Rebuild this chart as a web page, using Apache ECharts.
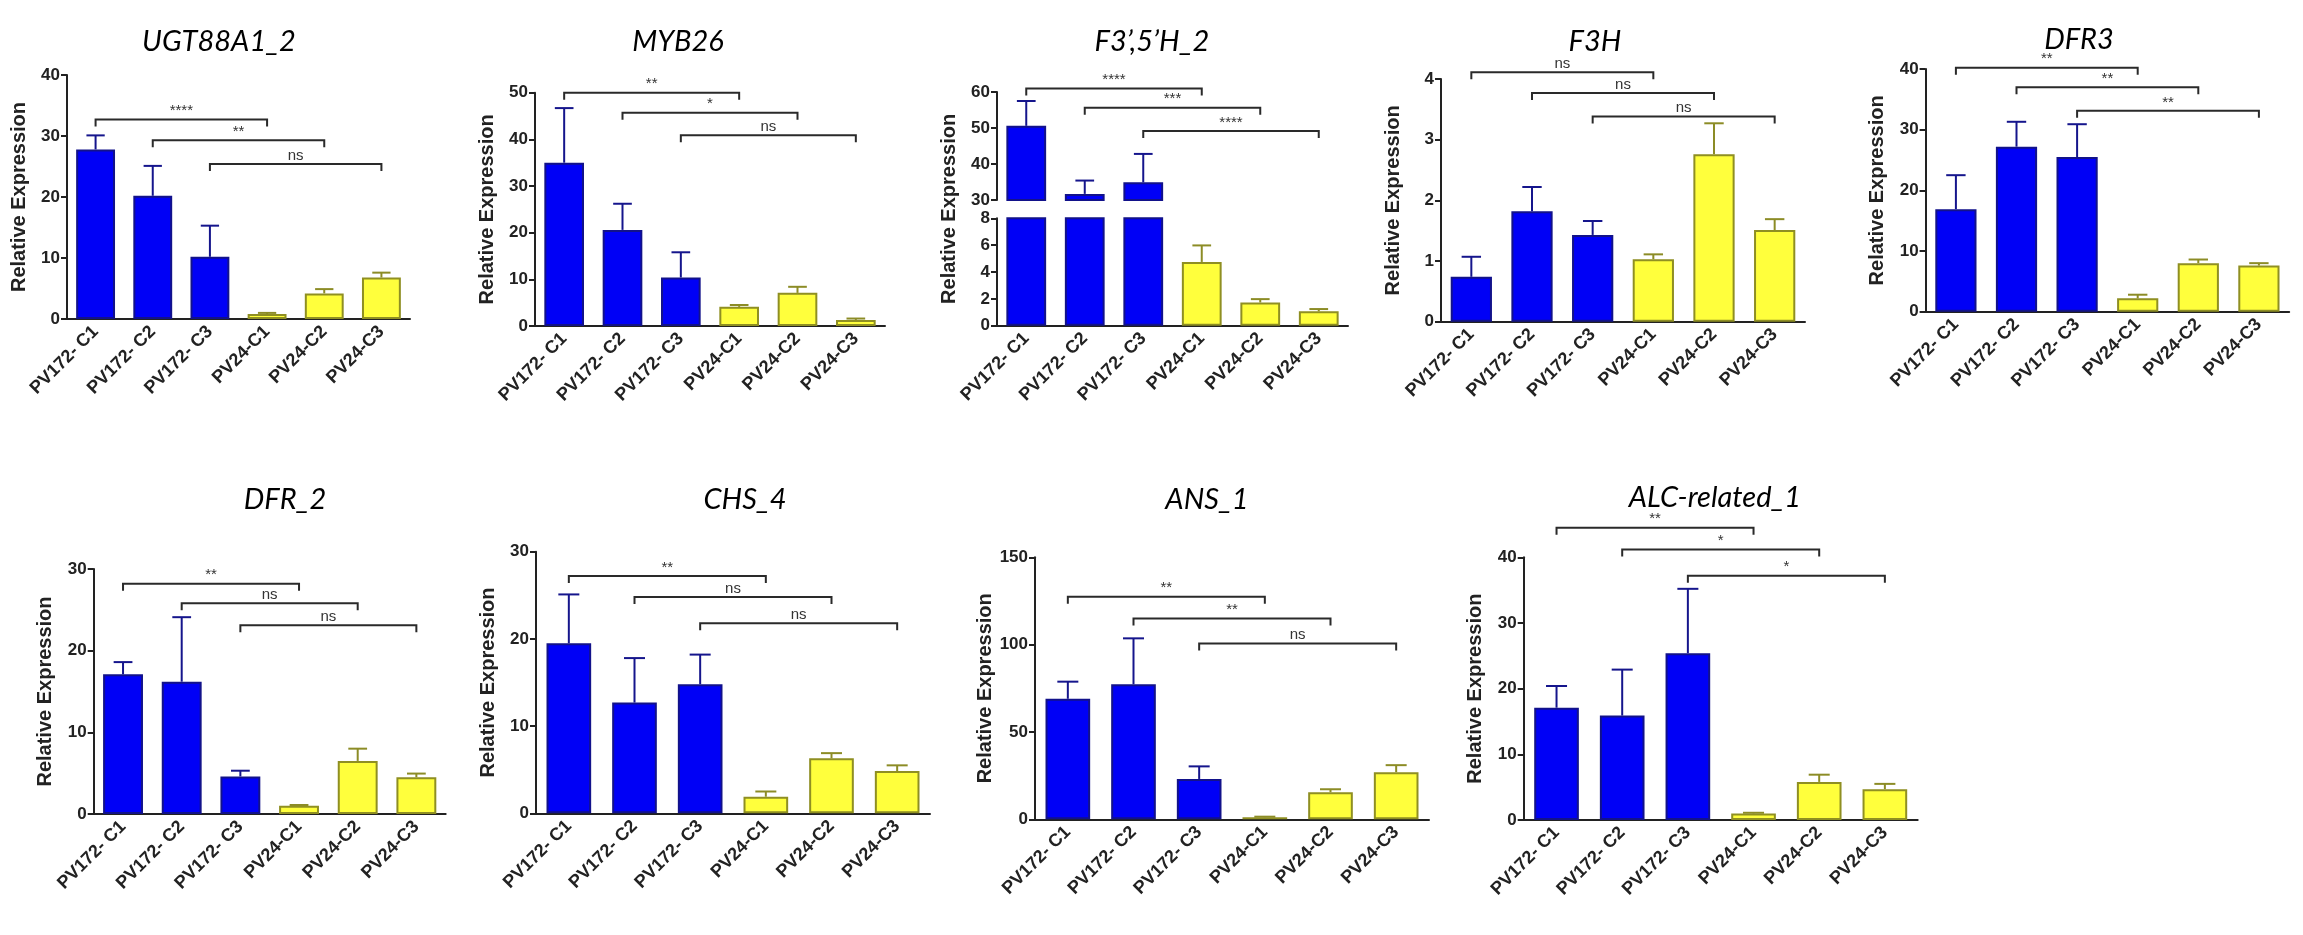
<!DOCTYPE html>
<html>
<head>
<meta charset="utf-8">
<script src="https://cdn.jsdelivr.net/npm/echarts@6/dist/echarts.min.js"></script>
<style>
  html, body { margin: 0; background: #fff; }
  #chart { width: 2303px; height: 935px; }
</style>
</head>
<body>
<div id="chart"></div>
<script>
const categories = ['PV172- C1', 'PV172- C2', 'PV172- C3', 'PV24-C1', 'PV24-C2', 'PV24-C3'];
const groups = ['PV172', 'PV172', 'PV172', 'PV24', 'PV24', 'PV24'];
const sigPairs = [[0, 3], [1, 4], [2, 5]];

// mean relative expression and error (SEM) per gene
const ugtMean = [27.8, 20.2, 10.2, 0.8, 4.2, 6.8];
const ugtErr = [2.3, 4.9, 5.1, 0.2, 0.7, 0.8];
const ugtSigY = [32.7, 29.3, 25.4];
const ugtSig = ['****', '**', 'ns'];

const mybMean = [35.0, 20.6, 10.4, 4.1, 7.1, 1.3];
const mybErr = [11.7, 5.6, 5.4, 0.4, 1.3, 0.3];
const mybSigY = [50.0, 45.7, 40.9];
const mybSig = ['**', '*', 'ns'];

const f35hMean = [50.6, 31.7, 34.9, 4.75, 1.73, 1.07];
const f35hErr = [6.9, 3.7, 7.9, 1.23, 0.25, 0.17];
const f35hSigY = [61.0, 55.6, 49.2];
const f35hSig = ['****', '***', '****'];

const f3hMean = [0.74, 1.82, 1.43, 1.03, 2.76, 1.51];
const f3hErr = [0.33, 0.40, 0.23, 0.08, 0.51, 0.18];
const f3hSigY = [4.11, 3.77, 3.38];
const f3hSig = ['ns', 'ns', 'ns'];

const dfr3Mean = [16.9, 27.2, 25.5, 2.2, 8.0, 7.6];
const dfr3Err = [5.6, 4.1, 5.4, 0.6, 0.6, 0.4];
const dfr3SigY = [40.2, 37.0, 33.1];
const dfr3Sig = ['**', '**', '**'];

const dfr2Mean = [17.1, 16.2, 4.6, 1.0, 6.5, 4.5];
const dfr2Err = [1.5, 7.9, 0.7, 0.1, 1.5, 0.45];
const dfr2SigY = [28.2, 25.8, 23.1];
const dfr2Sig = ['**', 'ns', 'ns'];

const chsMean = [19.5, 12.7, 14.8, 1.9, 6.3, 4.85];
const chsErr = [5.6, 5.1, 3.4, 0.6, 0.6, 0.65];
const chsSigY = [27.2, 24.8, 21.8];
const chsSig = ['**', 'ns', 'ns'];

const ansMean = [69.0, 77.3, 23.1, 1.2, 15.5, 27.0];
const ansErr = [9.8, 26.3, 7.2, 0.3, 1.7, 4.0];
const ansSigY = [127.4, 115.0, 100.7];
const ansSig = ['**', '**', 'ns'];

const alcMean = [17.1, 15.9, 25.4, 1.0, 5.8, 4.7];
const alcErr = [3.3, 7.0, 9.8, 0.1, 1.1, 0.8];
const alcSigY = [44.5, 41.2, 37.2];
const alcSig = ['**', '*', '*'];

const panels = [
  {title: 'UGT88A1_2', mean: ugtMean, err: ugtErr, sigY: ugtSigY, sig: ugtSig, axes: [[0, 40, 10]],
   boxes: [[67, 75, 343, 244]], titleAt: [219, 42]},
  {title: 'MYB26', mean: mybMean, err: mybErr, sigY: mybSigY, sig: mybSig, axes: [[0, 50, 10]],
   boxes: [[535, 92.7, 350, 233.3]], titleAt: [678, 42]},
  {title: 'F3\u2019,5\u2019H_2', mean: f35hMean, err: f35hErr, sigY: f35hSigY, sig: f35hSig, axes: [[30, 60, 10], [0, 8, 2]],
   boxes: [[997, 92, 351, 108], [997, 218.3, 351, 107.4]], titleAt: [1152, 42]},
  {title: 'F3H', mean: f3hMean, err: f3hErr, sigY: f3hSigY, sig: f3hSig, axes: [[0, 4, 1]],
   boxes: [[1441, 79, 364, 242.7]], titleAt: [1595, 42]},
  {title: 'DFR3', mean: dfr3Mean, err: dfr3Err, sigY: dfr3SigY, sig: dfr3Sig, axes: [[0, 40, 10]],
   boxes: [[1925.6, 69, 363.6, 242.7]], titleAt: [2079, 40]},
  {title: 'DFR_2', mean: dfr2Mean, err: dfr2Err, sigY: dfr2SigY, sig: dfr2Sig, axes: [[0, 30, 10]],
   boxes: [[93.7, 569, 352, 245]], titleAt: [285, 500]},
  {title: 'CHS_4', mean: chsMean, err: chsErr, sigY: chsSigY, sig: chsSig, axes: [[0, 30, 10]],
   boxes: [[536, 551.7, 394, 261.6]], titleAt: [745, 500]},
  {title: 'ANS_1', mean: ansMean, err: ansErr, sigY: ansSigY, sig: ansSig, axes: [[0, 150, 50]],
   boxes: [[1035, 557.3, 394, 262]], titleAt: [1207, 500]},
  {title: 'ALC-related_1', mean: alcMean, err: alcErr, sigY: alcSigY, sig: alcSig, axes: [[0, 40, 10]],
   boxes: [[1523.7, 557.3, 394, 262.7]], titleAt: [1715, 498]}
];

const FONT = '"Liberation Sans", Arial, sans-serif';
const INK = '#222';
const barStyle = {
  PV172: {color: '#0000f6', borderColor: '#12128a', borderWidth: 2},
  PV24: {color: '#ffff3c', borderColor: '#8f8f22', borderWidth: 2}
};
const errColor = {PV172: '#15158c', PV24: '#8c8c26'};

const option = {animation: false, backgroundColor: '#fff', graphic: [], grid: [], xAxis: [], yAxis: [], series: []};

function addGrid(box, range, showX, name) {
  const gi = option.grid.length;
  option.grid.push({left: box[0], top: box[1], width: box[2], height: box[3], containLabel: false});
  option.xAxis.push({
    type: 'category', gridIndex: gi, data: categories, show: showX,
    axisLine: {onZero: false, lineStyle: {color: INK, width: 2}},
    axisTick: {length: 6, alignWithLabel: true, lineStyle: {color: INK, width: 2}},
    axisLabel: {rotate: 45, interval: 0, margin: 10, fontFamily: FONT, fontWeight: 'bold', fontSize: 18, color: INK}
  });
  option.yAxis.push({
    type: 'value', gridIndex: gi, min: range[0], max: range[1], interval: range[2],
    name: name, nameLocation: 'middle', nameGap: 38,
    nameTextStyle: {fontFamily: FONT, fontWeight: 'bold', fontSize: 20, color: INK},
    splitLine: {show: false},
    axisLine: {show: true, onZero: false, lineStyle: {color: INK, width: 2}},
    axisTick: {show: true, length: 6, lineStyle: {color: INK, width: 2}},
    axisLabel: {margin: 7, fontFamily: FONT, fontWeight: 'bold', fontSize: 17, color: INK}
  });
  return gi;
}

function barSeries(gi, mean, range) {
  return {
    type: 'bar', xAxisIndex: gi, yAxisIndex: gi, barWidth: '68%', clip: true, z: 2,
    data: mean.map((v, i) => v > range[0] ? {value: v, itemStyle: barStyle[groups[i]]} : '-')
  };
}

function errorSeries(gi, mean, err, range) {
  const data = [];
  mean.forEach((m, i) => {
    if (m > range[0] && m + err[i] <= range[1]) data.push([i, m, m + err[i]]);
  });
  return {
    type: 'custom', xAxisIndex: gi, yAxisIndex: gi, clip: false, z: 3, silent: true,
    encode: {x: 0, y: [1, 2]},
    data: data,
    renderItem(params, api) {
      const i = api.value(0);
      const p0 = api.coord([i, api.value(1)]);
      const p1 = api.coord([i, api.value(2)]);
      const half = api.size([1, 0])[0] * 0.16;
      const stroke = errColor[groups[i]];
      return {type: 'group', children: [
        {type: 'line', shape: {x1: p0[0], y1: p0[1], x2: p1[0], y2: p1[1]}, style: {stroke: stroke, lineWidth: 2}},
        {type: 'line', shape: {x1: p1[0] - half, y1: p1[1], x2: p1[0] + half, y2: p1[1]}, style: {stroke: stroke, lineWidth: 2}}
      ]};
    }
  };
}

function sigSeries(gi, ys, labels) {
  return {
    type: 'custom', xAxisIndex: gi, yAxisIndex: gi, clip: false, z: 4, silent: true,
    encode: {x: 0, y: 2},
    data: sigPairs.map((p, k) => [p[0], p[1], ys[k]]),
    renderItem(params, api) {
      const a = api.coord([api.value(0), api.value(2)]);
      const b = api.coord([api.value(1), api.value(2)]);
      const drop = 7;
      return {type: 'group', children: [
        {type: 'polyline', shape: {points: [[a[0], a[1] + drop], [a[0], a[1]], [b[0], b[1]], [b[0], b[1] + drop]]},
         style: {stroke: '#2a2a2a', lineWidth: 2, fill: null}},
        {type: 'text', x: (a[0] + b[0]) / 2, y: a[1] - 1,
         style: {text: labels[params.dataIndex], fill: '#333', font: '15px ' + FONT, align: 'center', verticalAlign: 'bottom'}}
      ]};
    }
  };
}

panels.forEach(p => {
  option.graphic.push({
    type: 'text', x: p.titleAt[0], y: p.titleAt[1], silent: true,
    style: {text: p.title, align: 'center', verticalAlign: 'middle', fill: '#000',
            font: 'italic 29px Lato, "Open Sans", sans-serif'}
  });
  const broken = p.axes.length > 1;
  const gis = p.axes.map((range, k) => {
    const last = k === p.axes.length - 1;
    const gi = addGrid(p.boxes[k], range, last, broken ? '' : 'Relative Expression');
    option.series.push(barSeries(gi, p.mean, range));
    option.series.push(errorSeries(gi, p.mean, p.err, range));
    return gi;
  });
  option.series.push(sigSeries(gis[0], p.sigY, p.sig));
  if (broken) {
    // invisible axis spanning both pieces, only carries the axis name
    const top = p.boxes[0];
    const bottom = p.boxes[p.boxes.length - 1];
    const gi = addGrid([top[0], top[1], top[2], bottom[1] + bottom[3] - top[1]], [0, 1, 1], false, 'Relative Expression');
    const y = option.yAxis[gi];
    y.axisLine.show = false;
    y.axisTick.show = false;
    y.axisLabel.show = false;
  }
});

const chart = echarts.init(document.getElementById('chart'));
chart.setOption(option);
</script>
</body>
</html>
